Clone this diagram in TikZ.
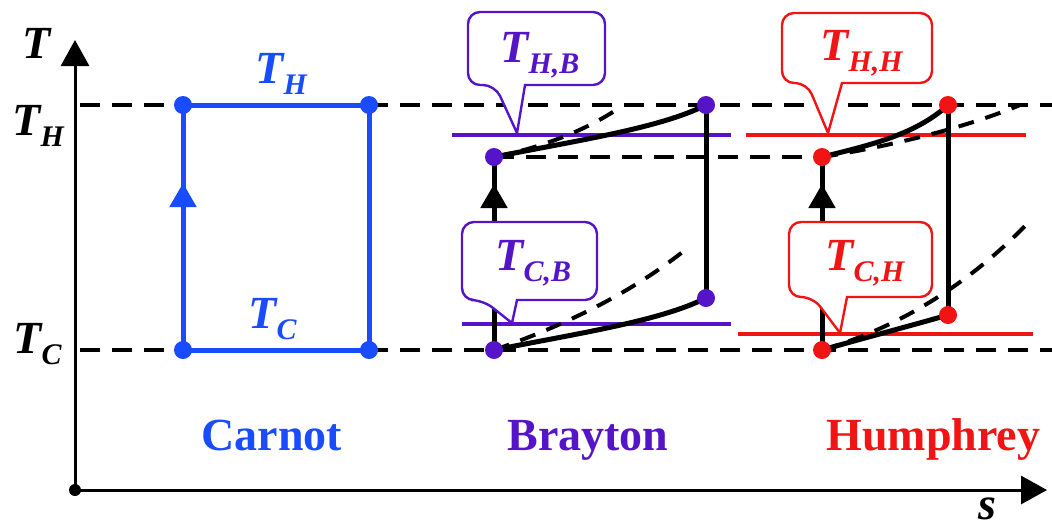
\documentclass[tikz,border=0pt]{standalone}
\usepackage{fontspec}
\setmainfont{Liberation Serif}
\usetikzlibrary{arrows.meta,calc}
\definecolor{cblue}{RGB}{25,75,255}
\definecolor{cpurple}{RGB}{85,20,200}
\definecolor{cred}{RGB}{240,20,20}
\newcommand{\Tlab}[1]{\textit{T}\kern-0.03em\raisebox{-0.24em}{\scalebox{0.65}{\textit{#1}}}}
\begin{document}
\begin{tikzpicture}[x=0.5pt,y=-0.5pt,
  axisline/.style={line width=1.5pt, black},
  refdash/.style={line width=2pt, dash pattern=on 10pt off 6pt},
  cycleline/.style={line width=2.5pt},
  isoline/.style={line width=2pt},
  dashcurve/.style={line width=2pt, dash pattern=on 8pt off 6pt},
  dot/.style={circle, fill=#1, inner sep=0pt, minimum size=9pt},
  lab/.style={font=\bfseries\fontsize{23}{27}\selectfont, inner sep=0pt, anchor=base west},
  callout/.style={draw=#1, fill=white, line width=1.2pt},
  tip/.style={-{Triangle[width=13pt,length=12pt]}},
  axtip/.style={-{Triangle[width=14pt,length=13pt]}}
]
\useasboundingbox (0,0) rectangle (1052,527);
% coordinates
\coordinate (O) at (75,490);
\coordinate (Ytip) at (75,40);
\coordinate (Xtip) at (1047,490);
\coordinate (hL) at (80,105);
\coordinate (hR) at (1052,105);
\coordinate (cL) at (80,350);
\coordinate (cR) at (1052,350);
\coordinate (cBL) at (183,350);
\coordinate (cTL) at (183,105);
\coordinate (cTR) at (369,105);
\coordinate (cBR) at (369,350);
\coordinate (bBL) at (494,350);
\coordinate (bTL) at (494,157);
\coordinate (bTR) at (706,105);
\coordinate (bBR) at (706,298);
\coordinate (hBL) at (822,350);
\coordinate (hTL) at (822,157);
\coordinate (hTR) at (948,105);
\coordinate (hBR) at (948,315);
% axes
\draw[axisline, axtip] (O) -- (Ytip);
\draw[axisline, axtip] (O) -- (Xtip);
\fill (O) circle (3pt);
% reference dashed lines
\draw[refdash] (hL) -- (hR);
\draw[refdash] (cL) -- (cR);
\draw[refdash] (bTL) -- (hTL);
% isotherm lines
\coordinate (pH1) at (452,135); \coordinate (pH2) at (731,135);
\coordinate (pC1) at (462,324); \coordinate (pC2) at (731,324);
\coordinate (rH1) at (746,135); \coordinate (rH2) at (1026,135);
\coordinate (rC1) at (738,334); \coordinate (rC2) at (1033,334);
\draw[isoline, cpurple] (pH1) -- (pH2);
\draw[isoline, cpurple] (pC1) -- (pC2);
\draw[isoline, cred] (rH1) -- (rH2);
\draw[line width=1.6pt, cred] (rC1) -- (rC2);
% Carnot
\draw[cycleline, cblue] (cBL) -- (cTL) -- (cTR) -- (cBR) -- cycle;
\draw[cycleline, cblue, tip] (cBL) -- (183,183);
% Brayton
\draw[cycleline] (bBL) -- (bTL);
\draw[cycleline, tip] (bBL) -- (494,184);
\draw[cycleline] (bTL) .. controls (580,140) and (660,128) .. (bTR);
\draw[cycleline] (bTR) -- (bBR);
\draw[cycleline] (bBL) .. controls (580,333) and (660,321) .. (bBR);
\draw[dashcurve] (bTL) .. controls (530,150) and (580,135) .. (622,106);
\draw[dashcurve] (bBL) .. controls (560,327) and (630,295) .. (690,246);
% Humphrey
\draw[cycleline] (hBL) -- (hTL);
\draw[cycleline, tip] (hBL) -- (822,184);
\draw[cycleline] (hTL) .. controls (870,145) and (915,135) .. (hTR);
\draw[cycleline] (hTR) -- (hBR);
\draw[cycleline] (hBL) .. controls (864,338) and (906,327) .. (hBR);
\draw[dashcurve] (hTL) .. controls (880,148) and (960,130) .. (1020,105);
\draw[dashcurve] (hBL) .. controls (890,330) and (960,292) .. (1025,226);
% callouts
\draw[callout=cpurple] (517,133) -- (525,85) [rounded corners=6pt] -- (605,85) -- (605,12) -- (468,12) -- (468,85) -- (495,85) [sharp corners] -- cycle;
\draw[callout=cpurple] (512,323) -- (517,300) [rounded corners=6pt] -- (597,300) -- (597,222) -- (462,222) -- (462,300) -- (483,300) [sharp corners] -- cycle;
\draw[callout=cred] (828,133) -- (842,83) [rounded corners=6pt] -- (932,83) -- (932,13) -- (782,13) -- (782,83) -- (807,83) [sharp corners] -- cycle;
\draw[callout=cred] (840,333) -- (847,297) [rounded corners=6pt] -- (932,297) -- (932,222) -- (789,222) -- (789,297) -- (813,297) [sharp corners] -- cycle;
% dots
\foreach \p in {cBL,cTL,cTR,cBR}{\node[dot=cblue] at (\p) {};}
\foreach \p in {bBL,bTL,bTR,bBR}{\node[dot=cpurple] at (\p) {};}
\foreach \p in {hBL,hTL,hTR,hBR}{\node[dot=cred] at (\p) {};}
% labels
\node[lab] (yl) at (22,58) {\textit{T}};
\node[lab] (xl) at (978,519) {\textit{s}};
\node[lab] (lTH) at (12,135) {\Tlab{H}};
\node[lab] (lTC) at (13,353) {\Tlab{C}};
\node[lab, text=cblue] (cTHl) at (255,83) {\Tlab{H}};
\node[lab, text=cblue] (cTCl) at (248,328) {\Tlab{C}};
\node[lab, text=cpurple] (bTHl) at (500,62) {\Tlab{H,B}};
\node[lab, text=cpurple] (bTCl) at (495,270) {\Tlab{C,B}};
\node[lab, text=cred] (hTHl) at (820,60) {\Tlab{H,H}};
\node[lab, text=cred] (hTCl) at (825,270) {\Tlab{C,H}};
\node[lab, text=cblue] (carnot) at (201,450) {Carnot};
\node[lab, text=cpurple] (brayton) at (507,450) {Brayton};
\node[lab, text=cred] (humphrey) at (826,450) {Humphrey};
\end{tikzpicture}
\end{document}
